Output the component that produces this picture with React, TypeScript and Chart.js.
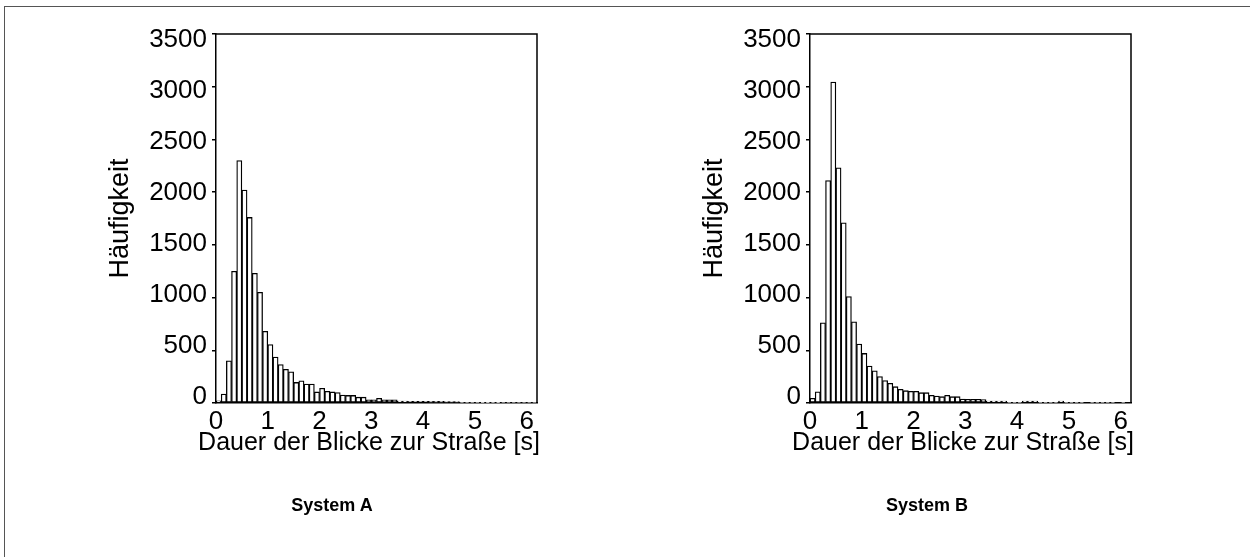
import React, { useEffect, useRef } from "react";
import { Chart, registerables } from "chart.js";

Chart.register(...registerables);

// Histogram bins (start of each 0.1 s bin)
const binStarts = [
  0.0, 0.1, 0.2, 0.3, 0.4, 0.5, 0.6, 0.7, 0.8, 0.9,
  1.0, 1.1, 1.2, 1.3, 1.4, 1.5, 1.6, 1.7, 1.8, 1.9,
  2.0, 2.1, 2.2, 2.3, 2.4, 2.5, 2.6, 2.7, 2.8, 2.9,
  3.0, 3.1, 3.2, 3.3, 3.4, 3.5, 3.6, 3.7, 3.8, 3.9,
  4.0, 4.1, 4.2, 4.3, 4.4, 4.5, 4.6, 4.7, 4.8, 4.9,
  5.0, 5.1, 5.2, 5.3, 5.4, 5.5, 5.6, 5.7, 5.8, 5.9,
  6.0, 6.1,
];

const countsA = [
  20, 85, 400, 1250, 2300, 2020, 1760, 1230, 1050, 680,
  555, 435, 365, 320, 295, 195, 210, 180, 180, 105,
  140, 110, 105, 100, 75, 72, 72, 55, 55, 30,
  30, 45, 30, 30, 30, 18, 18, 17, 17, 16,
  16, 15, 15, 15, 14, 14, 14, 6, 5, 5,
  5, 4, 4, 4, 4, 3, 3, 3, 3, 3,
  2, 2,
];

const countsB = [
  44, 107, 760, 2110, 3045, 2230, 1710, 1010, 770, 560,
  470, 350, 305, 250, 212, 187, 155, 130, 117, 111,
  111, 98, 98, 73, 66, 60, 73, 60, 60, 38,
  35, 35, 35, 32, 19, 19, 19, 19, 5, 5,
  5, 19, 19, 19, 5, 5, 5, 5, 19, 5,
  5, 5, 5, 0, 5, 5, 5, 5, 5, 0,
  5, 0,
];

const yTickValues = [0, 500, 1000, 1500, 2000, 2500, 3000, 3500];
const xTickValues = [0, 1, 2, 3, 4, 5, 6];
const yTitle = "Häufigkeit";
const xTitle = "Dauer der Blicke zur Straße [s]";
const panelTitles = ["System A", "System B"];

const FONT = "'Liberation Sans', Arial, Helvetica, sans-serif";
const BIN = 0.1;

const framePlugin = {
  id: "frame",
  afterDatasetsDraw(chart: any) {
    const { ctx, chartArea } = chart;
    ctx.save();
    ctx.strokeStyle = "#000";
    ctx.lineWidth = 1.5;
    ctx.beginPath();
    ctx.moveTo(chartArea.left, chartArea.top);
    ctx.lineTo(chartArea.right, chartArea.top);
    ctx.lineTo(chartArea.right, chartArea.bottom);
    ctx.stroke();
    ctx.restore();
  },
  afterDraw(chart: any) {
    // x-axis title drawn without the width constraint Chart.js applies
    const { ctx, chartArea } = chart;
    ctx.save();
    ctx.fillStyle = "#000";
    ctx.font = `25px ${FONT}`;
    ctx.textAlign = "center";
    ctx.textBaseline = "middle";
    ctx.fillText(xTitle, chartArea.left + 153, chartArea.bottom + 40);
    ctx.restore();
  },
};

function Histogram({ counts, left }: { counts: number[]; left: number }) {
  const ref = useRef<HTMLCanvasElement | null>(null);
  useEffect(() => {
    if (!ref.current) return;
    const data = binStarts.map((s, i) => ({ x: s + BIN / 2, y: counts[i] }));
    const chart = new Chart(ref.current, {
      type: "bar",
      data: {
        datasets: [
          {
            data: data as any,
            backgroundColor: "#fff",
            borderColor: "#000",
            borderWidth: 1.3,
            borderSkipped: false,
            barPercentage: 1,
            categoryPercentage: 1,
          },
        ],
      },
      options: {
        animation: false,
        responsive: false,
        events: [],
        layout: { padding: { left: 90, right: 88, top: 34, bottom: 94 } },
        plugins: { legend: { display: false }, tooltip: { enabled: false }, title: { display: false } },
        scales: {
          x: {
            type: "linear",
            min: 0,
            max: 6.2,
            offset: false,
            afterBuildTicks: (s: any) => {
              s.ticks = xTickValues.map((v) => ({ value: v }));
            },
            afterFit: (s: any) => {
              s.height = 60;
            },
            grid: { display: false, offset: false },
            border: { display: true, color: "#000", width: 1.5 },
            ticks: {
              color: "#000",
              font: { family: FONT, size: 26 },
              padding: -5,
              maxRotation: 0,
              autoSkip: false,
              callback: (v: any) => String(v),
            },
            title: { display: false },
          },
          y: {
            type: "linear",
            position: "left",
            weight: 0,
            min: 0,
            max: 3500,
            afterBuildTicks: (s: any) => {
              s.ticks = yTickValues.map((v) => ({ value: v }));
            },
            afterFit: (s: any) => {
              s.width = 4;
            },
            grid: { display: true, drawOnChartArea: false, drawTicks: true, tickLength: 4, color: "#000", lineWidth: 1.5 },
            border: { display: true, color: "#000", width: 1.5 },
            ticks: { display: false },
          },
          yLabels: {
            type: "linear",
            position: "left",
            weight: 1,
            min: -58.8,
            max: 3558.8,
            afterBuildTicks: (s: any) => {
              s.ticks = yTickValues.map((v) => ({ value: v }));
            },
            afterFit: (s: any) => {
              s.width = 122;
            },
            grid: { display: false },
            border: { display: false },
            ticks: {
              color: "#000",
              font: { family: FONT, size: 26 },
              padding: -3,
              callback: (v: any) => String(v),
            },
            title: {
              display: true,
              text: yTitle,
              color: "#000",
              font: { family: FONT, size: 27 },
              padding: { top: 14, bottom: 0 },
            },
          },
        },
      },
      plugins: [framePlugin],
    });
    return () => chart.destroy();
  }, [counts]);
  return (
    <canvas
      ref={ref}
      width={625}
      height={557}
      style={{ position: "absolute", left, top: 0, width: 625, height: 557 }}
    />
  );
}

export default function App() {
  return (
    <div
      style={{
        position: "fixed",
        left: 0,
        top: 0,
        width: 1250,
        height: 557,
        overflow: "hidden",
        background: "#fff",
      }}
    >
      <div
        style={{
          position: "absolute",
          left: 4,
          top: 6,
          width: 1260,
          height: 570,
          borderLeft: "1px solid #555",
          borderTop: "1px solid #555",
        }}
      />
      <Histogram counts={countsA} left={0} />
      <Histogram counts={countsB} left={594} />
      {panelTitles.map((t, i) => (
        <div
          key={t}
          style={{
            position: "absolute",
            left: (i === 0 ? 332 : 927) - 100,
            top: 495,
            width: 200,
            textAlign: "center",
            fontFamily: FONT,
            fontWeight: "bold",
            fontSize: 18,
            lineHeight: "20px",
            color: "#000",
          }}
        >
          {t}
        </div>
      ))}
    </div>
  );
}
